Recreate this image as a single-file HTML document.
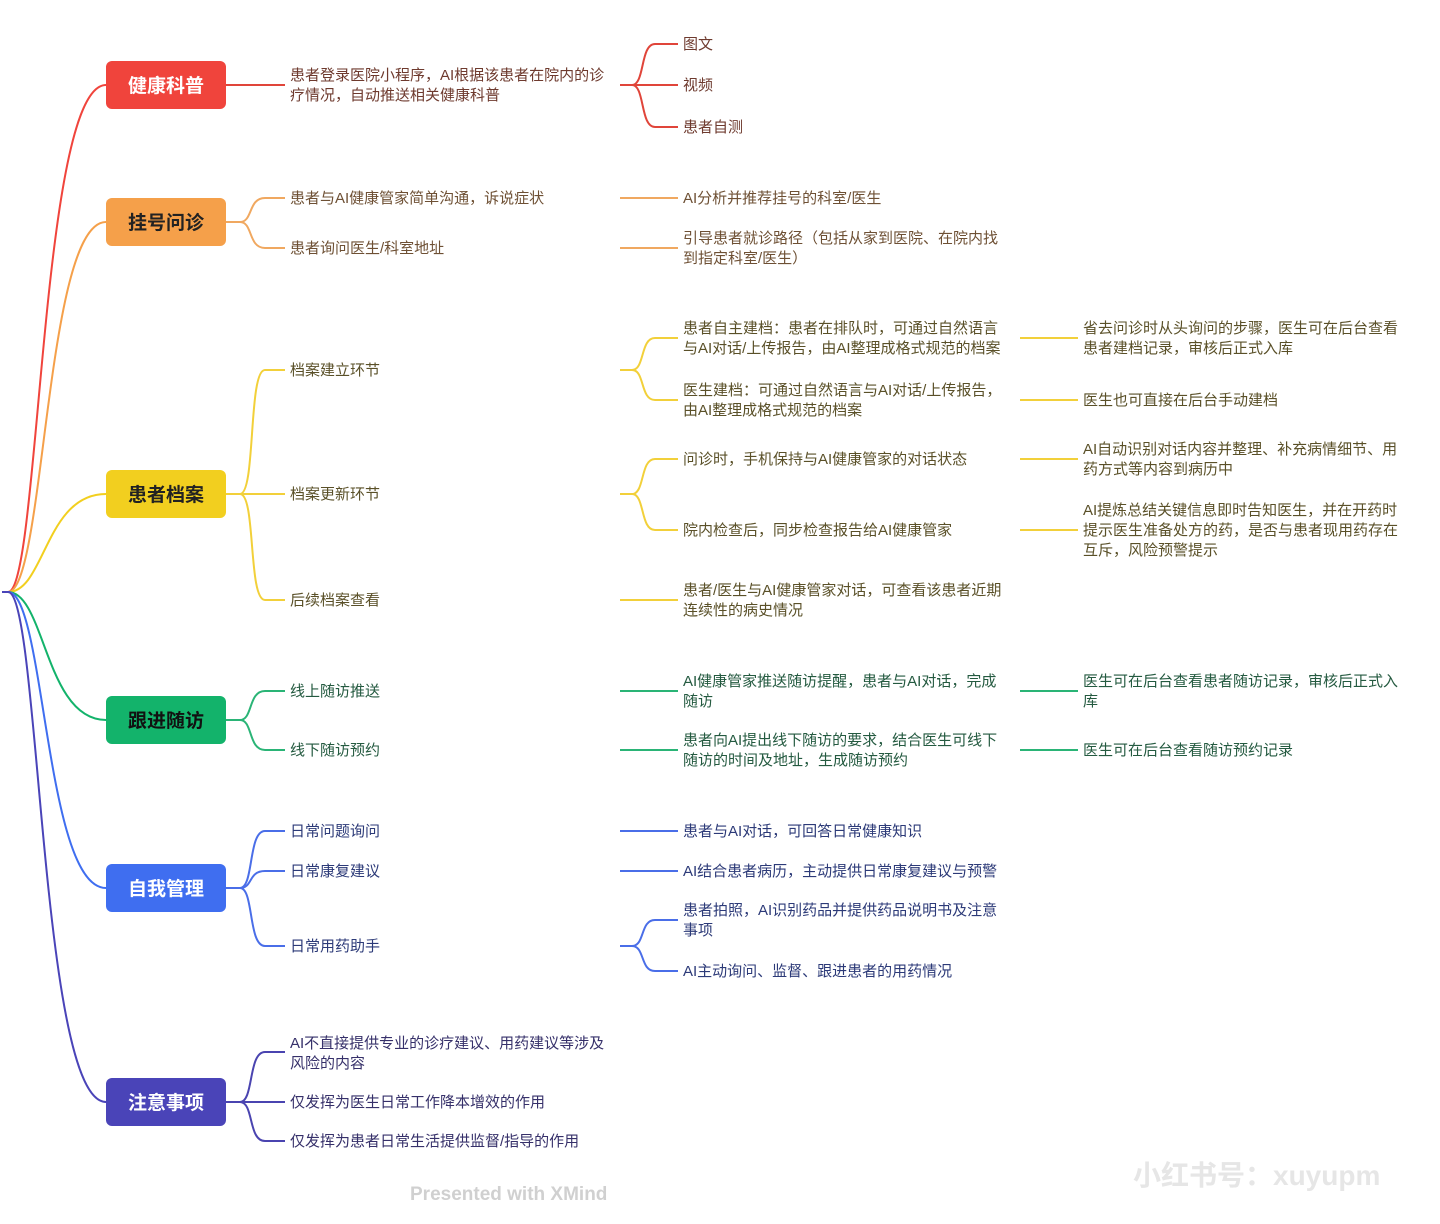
<!DOCTYPE html>
<html><head><meta charset="utf-8"><style>
html,body{margin:0;padding:0;background:#fff;}
svg{display:block;}
text{font-family:"Liberation Sans","Noto Sans CJK SC",sans-serif;font-size:15px;}
.t{font-size:15px;}
.n{font-size:19px;font-weight:bold;fill:#fff;}
</style></head><body>
<svg width="1440" height="1224" viewBox="0 0 1440 1224" xmlns="http://www.w3.org/2000/svg">
<g fill="none" stroke-width="2">
<!-- root connectors -->
<path d="M8,592 C40,592 40,85 106,85" stroke="#f0443c"/>
<path d="M8,592 C45,592 45,222 106,222" stroke="#f5a04a"/>
<path d="M8,592 C45,592 45,494 106,494" stroke="#f2cf1f"/>
<path d="M8,592 C45,592 45,720 106,720" stroke="#13b36b"/>
<path d="M8,592 C45,592 45,888 106,888" stroke="#3f6ef0"/>
<path d="M8,592 C40,592 40,1102 106,1102" stroke="#4a44b8"/>
<path d="M8,592 L2,592" stroke="#4a44b8"/>
<!-- red -->
<g stroke="#e0453a">
<path d="M226,85 L285,85"/>
<path d="M620,85 L632,85 C645,85 640,44 655,44 L678,44"/>
<path d="M620,85 L678,85"/>
<path d="M632,85 C645,85 640,127 655,127 L678,127"/>
</g>
<!-- orange -->
<g stroke="#f0a860">
<path d="M226,222 L240,222 C253,222 248,198 265,198 L285,198"/>
<path d="M240,222 C253,222 248,248 265,248 L285,248"/>
<path d="M620,198 L678,198"/><path d="M620,248 L678,248"/>
</g>
<!-- yellow -->
<g stroke="#f2d03a">
<path d="M226,494 L240,494 C256,494 248,370 265,370 L285,370"/>
<path d="M240,494 L285,494"/>
<path d="M240,494 C256,494 248,600 265,600 L285,600"/>
<path d="M620,370 L632,370 C645,370 640,338 655,338 L678,338"/>
<path d="M632,370 C645,370 640,400 655,400 L678,400"/>
<path d="M620,494 L632,494 C645,494 640,459 655,459 L678,459"/>
<path d="M632,494 C645,494 640,530 655,530 L678,530"/>
<path d="M620,600 L678,600"/>
<path d="M1020,338 L1078,338"/><path d="M1020,400 L1078,400"/>
<path d="M1020,459 L1078,459"/><path d="M1020,530 L1078,530"/>
</g>
<!-- green -->
<g stroke="#2ab476">
<path d="M226,720 L240,720 C253,720 248,691 265,691 L285,691"/>
<path d="M240,720 C253,720 248,750 265,750 L285,750"/>
<path d="M620,691 L678,691"/><path d="M620,750 L678,750"/>
<path d="M1020,691 L1078,691"/><path d="M1020,750 L1078,750"/>
</g>
<!-- blue -->
<g stroke="#4a6ee8">
<path d="M226,888 L240,888 C254,888 248,831 265,831 L285,831"/>
<path d="M240,888 C253,888 248,871 265,871 L285,871"/>
<path d="M240,888 C254,888 248,946 265,946 L285,946"/>
<path d="M620,831 L678,831"/><path d="M620,871 L678,871"/>
<path d="M620,946 L632,946 C645,946 640,920 655,920 L678,920"/>
<path d="M632,946 C645,946 640,971 655,971 L678,971"/>
</g>
<!-- purple -->
<g stroke="#4a44b0">
<path d="M226,1102 L240,1102 C254,1102 248,1052 265,1052 L285,1052"/>
<path d="M240,1102 L285,1102"/>
<path d="M240,1102 C254,1102 248,1141 265,1141 L285,1141"/>
</g>
</g>
<!-- main nodes -->
<rect x="106" y="61" width="120" height="48" rx="6" fill="#f0443c"/>
<rect x="106" y="198" width="120" height="48" rx="6" fill="#f5a04a"/>
<rect x="106" y="470" width="120" height="48" rx="6" fill="#f2cf1f"/>
<rect x="106" y="696" width="120" height="48" rx="6" fill="#13b36b"/>
<rect x="106" y="864" width="120" height="48" rx="6" fill="#3f6ef0"/>
<rect x="106" y="1078" width="120" height="48" rx="6" fill="#4a44b8"/>
<text class="n" x="166" y="92" text-anchor="middle">健康科普</text>
<text class="n" x="166" y="229" text-anchor="middle" fill="#222" style="fill:#222">挂号问诊</text>
<text class="n" x="166" y="501" text-anchor="middle" style="fill:#222">患者档案</text>
<text class="n" x="166" y="727" text-anchor="middle" style="fill:#111">跟进随访</text>
<text class="n" x="166" y="895" text-anchor="middle">自我管理</text>
<text class="n" x="166" y="1109" text-anchor="middle">注意事项</text>
<!-- red texts -->
<g fill="#6e3a2e">
<text x="290" y="80">患者登录医院小程序，AI根据该患者在院内的诊</text>
<text x="290" y="100">疗情况，自动推送相关健康科普</text>
<text x="683" y="49">图文</text><text x="683" y="90">视频</text><text x="683" y="132">患者自测</text>
</g>
<g fill="#6e5034">
<text x="290" y="203">患者与AI健康管家简单沟通，诉说症状</text>
<text x="290" y="253">患者询问医生/科室地址</text>
<text x="683" y="203">AI分析并推荐挂号的科室/医生</text>
<text x="683" y="243">引导患者就诊路径（包括从家到医院、在院内找</text>
<text x="683" y="263">到指定科室/医生）</text>
</g>
<g fill="#5a5028">
<text x="290" y="375">档案建立环节</text>
<text x="290" y="499">档案更新环节</text>
<text x="290" y="605">后续档案查看</text>
<text x="683" y="333">患者自主建档：患者在排队时，可通过自然语言</text>
<text x="683" y="353">与AI对话/上传报告，由AI整理成格式规范的档案</text>
<text x="683" y="395">医生建档：可通过自然语言与AI对话/上传报告，</text>
<text x="683" y="415">由AI整理成格式规范的档案</text>
<text x="683" y="464">问诊时，手机保持与AI健康管家的对话状态</text>
<text x="683" y="535">院内检查后，同步检查报告给AI健康管家</text>
<text x="683" y="595">患者/医生与AI健康管家对话，可查看该患者近期</text>
<text x="683" y="615">连续性的病史情况</text>
<text x="1083" y="333">省去问诊时从头询问的步骤，医生可在后台查看</text>
<text x="1083" y="353">患者建档记录，审核后正式入库</text>
<text x="1083" y="405">医生也可直接在后台手动建档</text>
<text x="1083" y="454">AI自动识别对话内容并整理、补充病情细节、用</text>
<text x="1083" y="474">药方式等内容到病历中</text>
<text x="1083" y="515">AI提炼总结关键信息即时告知医生，并在开药时</text>
<text x="1083" y="535">提示医生准备处方的药，是否与患者现用药存在</text>
<text x="1083" y="555">互斥，风险预警提示</text>
</g>
<g fill="#245a40">
<text x="290" y="696">线上随访推送</text>
<text x="290" y="755">线下随访预约</text>
<text x="683" y="686">AI健康管家推送随访提醒，患者与AI对话，完成</text>
<text x="683" y="706">随访</text>
<text x="683" y="745">患者向AI提出线下随访的要求，结合医生可线下</text>
<text x="683" y="765">随访的时间及地址，生成随访预约</text>
<text x="1083" y="686">医生可在后台查看患者随访记录，审核后正式入</text>
<text x="1083" y="706">库</text>
<text x="1083" y="755">医生可在后台查看随访预约记录</text>
</g>
<g fill="#2c3a78">
<text x="290" y="836">日常问题询问</text>
<text x="290" y="876">日常康复建议</text>
<text x="290" y="951">日常用药助手</text>
<text x="683" y="836">患者与AI对话，可回答日常健康知识</text>
<text x="683" y="876">AI结合患者病历，主动提供日常康复建议与预警</text>
<text x="683" y="915">患者拍照，AI识别药品并提供药品说明书及注意</text>
<text x="683" y="935">事项</text>
<text x="683" y="976">AI主动询问、监督、跟进患者的用药情况</text>
</g>
<g fill="#36306a">
<text x="290" y="1048">AI不直接提供专业的诊疗建议、用药建议等涉及</text>
<text x="290" y="1068">风险的内容</text>
<text x="290" y="1107">仅发挥为医生日常工作降本增效的作用</text>
<text x="290" y="1146">仅发挥为患者日常生活提供监督/指导的作用</text>
</g>
<text x="410" y="1200" style="font-size:19px;font-weight:bold;fill:#d0d0d0">Presented with XMind</text>
<text x="1133" y="1185" style="font-size:28px;font-weight:bold;fill:#e6e6e6">小红书号：xuyupm</text>
</svg>
</body></html>
